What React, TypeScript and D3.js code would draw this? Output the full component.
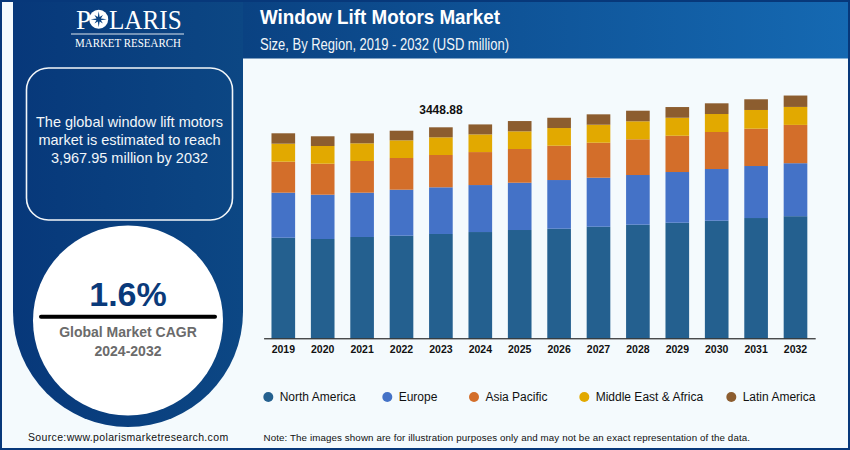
import { useRef, useEffect } from "react";
import * as d3 from "d3";

const years = ["2019", "2020", "2021", "2022", "2023", "2024", "2025", "2026", "2027", "2028", "2029", "2030", "2031", "2032"];
const regions = ["North America", "Europe", "Asia Pacific", "Middle East & Africa", "Latin America"];
const colors = ["#24608f", "#4472c7", "#d36e2a", "#e2a900", "#8c5d2f"];

const northAmerica = [1644, 1623, 1656, 1677, 1705, 1737, 1770, 1791, 1824, 1857, 1889, 1922, 1966, 1996];
const europe = [736, 724, 724, 752, 763, 768, 773, 796, 801, 812, 829, 845, 850, 866];
const asiaPacific = [507, 507, 518, 518, 528, 539, 551, 561, 572, 584, 593, 605, 610, 626];
const middleEastAfrica = [294, 289, 289, 289, 289, 289, 289, 289, 294, 294, 294, 294, 306, 294];
const latinAmerica = [170, 159, 163, 157, 163.88, 163, 168, 168, 170, 173, 175, 175, 175, 186];
const series = [northAmerica, europe, asiaPacific, middleEastAfrica, latinAmerica];

const labelYear = "2023";
const labelValue = "3448.88";
const legendX = [268.3, 387.3, 474, 584.3, 731.3];

const SANS = "'Liberation Sans', Arial, sans-serif";
const SERIF = "'Liberation Serif', 'Times New Roman', serif";

export default function App() {
  const svgRef = useRef<SVGSVGElement>(null);

  useEffect(() => {
    if (!svgRef.current) return;
    const svg = d3.select(svgRef.current);
    svg.selectAll("*").remove();
    svg.attr("width", 850).attr("height", 450).style("position", "fixed").style("left", 0).style("top", 0);

    const defs = svg.append("defs");
    const headGrad = defs.append("linearGradient").attr("id", "headGrad");
    headGrad.append("stop").attr("offset", "0%").attr("stop-color", "#0a4282");
    headGrad.append("stop").attr("offset", "100%").attr("stop-color", "#1569b2");
    const panelGrad = defs.append("linearGradient").attr("id", "panelGrad");
    panelGrad.append("stop").attr("offset", "0%").attr("stop-color", "#07387a");
    panelGrad.append("stop").attr("offset", "100%").attr("stop-color", "#0c4784");

    // frame, header, sidebar
    svg.append("rect").attr("width", 850).attr("height", 450).attr("fill", "#07387a");
    svg.append("rect").attr("x", 2).attr("y", 2).attr("width", 846).attr("height", 446).attr("fill", "#f4fafd");
    svg.append("rect").attr("x", 243).attr("y", 2).attr("width", 605).attr("height", 56.5).attr("fill", "url(#headGrad)");
    svg.append("path").attr("d", "M13,2H243V312A115,115 0 0 1 13,312Z").attr("fill", "url(#panelGrad)");

    // logo
    svg.append("text").attr("x", 76).attr("y", 28.7).attr("font-family", SERIF).attr("font-size", 27).attr("fill", "#fff").text("P");
    svg.append("text").attr("x", 109).attr("y", 28.7).attr("font-family", SERIF).attr("font-size", 27).attr("fill", "#fff")
      .attr("textLength", 72.7).attr("lengthAdjust", "spacingAndGlyphs").text("LARIS");
    svg.append("circle").attr("cx", 98.7).attr("cy", 19.3).attr("r", 9.5).attr("fill", "#fff");
    const starPts = d3.range(16).map(i => [(i * Math.PI) / 8, i % 2 === 0 ? (i % 4 === 0 ? 8 : 6) : 2.4] as [number, number]);
    svg.append("path").attr("transform", "translate(98.7,19.3)")
      .attr("d", d3.lineRadial().curve(d3.curveLinearClosed)(starPts)!).attr("fill", "#0a4282");
    svg.append("line").attr("x1", 71).attr("x2", 184).attr("y1", 34).attr("y2", 34).attr("stroke", "#dfe8f0").attr("stroke-width", 1);
    svg.append("text").attr("x", 75).attr("y", 47).attr("font-family", SERIF).attr("font-size", 11.5).attr("fill", "#fff")
      .attr("textLength", 106).attr("lengthAdjust", "spacingAndGlyphs").text("MARKET RESEARCH");

    // summary box
    svg.append("rect").attr("x", 26.5).attr("y", 68).attr("width", 206).attr("height", 152).attr("rx", 22)
      .attr("fill", "none").attr("stroke", "#f2f6f9").attr("stroke-width", 1.6);
    ["The global window lift motors", "market is estimated to reach", "3,967.95 million by 2032"].forEach((t, i) => {
      svg.append("text").attr("x", 129.5).attr("y", 127 + i * 18).attr("text-anchor", "middle").attr("font-family", SANS)
        .attr("font-size", 14.5).attr("fill", "#f2f6f9").text(t);
    });

    // CAGR circle
    svg.append("circle").attr("cx", 128).attr("cy", 320.5).attr("r", 95).attr("fill", "#fff");
    svg.append("text").attr("x", 128).attr("y", 305.5).attr("text-anchor", "middle").attr("font-family", SANS)
      .attr("font-size", 34).attr("font-weight", 700).attr("fill", "#0a3a7a").text("1.6%");
    svg.append("line").attr("x1", 41).attr("x2", 215).attr("y1", 316.7).attr("y2", 316.7).attr("stroke", "#000")
      .attr("stroke-width", 4).attr("stroke-linecap", "round");
    svg.append("text").attr("x", 128).attr("y", 337).attr("text-anchor", "middle").attr("font-family", SANS)
      .attr("font-size", 14).attr("font-weight", 700).attr("fill", "#6b6b6b").text("Global Market CAGR");
    svg.append("text").attr("x", 128).attr("y", 356).attr("text-anchor", "middle").attr("font-family", SANS)
      .attr("font-size", 14).attr("font-weight", 700).attr("fill", "#6b6b6b").text("2024-2032");

    // titles
    svg.append("text").attr("x", 260).attr("y", 23.5).attr("font-family", SANS).attr("font-size", 20)
      .attr("font-weight", 700).attr("fill", "#fff").attr("textLength", 240).attr("lengthAdjust", "spacingAndGlyphs")
      .text("Window Lift Motors Market");
    svg.append("text").attr("x", 260).attr("y", 50).attr("font-family", SANS).attr("font-size", 17)
      .attr("fill", "#f2f6f9").attr("textLength", 249).attr("lengthAdjust", "spacingAndGlyphs")
      .text("Size, By Region, 2019 - 2032 (USD million)");

    // chart
    const baseline = 338.3;
    const x = d3.scaleBand().domain(years).range([263.6, 815.2]).paddingInner(0.4).paddingOuter(0.2);
    const y = d3.scaleLinear().domain([0, 3448.88]).range([baseline, 127.3]);

    const rows = years.map((yr, i) => {
      const row: Record<string, number | string> = { year: yr };
      regions.forEach((r, s) => { row[r] = series[s][i]; });
      return row;
    });
    const stacked = d3.stack<Record<string, number | string>>().keys(regions)(rows as any);

    svg.append("g").selectAll("g").data(stacked).enter().append("g")
      .attr("fill", (_, i) => colors[i])
      .selectAll("rect").data(d => d).enter().append("rect")
      .attr("x", d => x(d.data.year as string)!)
      .attr("y", d => y(d[1]))
      .attr("width", x.bandwidth())
      .attr("height", d => y(d[0]) - y(d[1]));

    svg.append("g").attr("transform", `translate(0,${baseline})`)
      .call(d3.axisBottom(x).tickSize(0).tickPadding(7))
      .call(g => {
        g.select(".domain").attr("stroke", "#000").attr("stroke-width", 1);
        g.selectAll("text").attr("fill", "#111").attr("font-family", SANS).attr("font-size", 10.5).attr("font-weight", 700);
      });

    svg.append("text").attr("x", x(labelYear)! + x.bandwidth() / 2).attr("y", 114).attr("text-anchor", "middle")
      .attr("font-family", SANS).attr("font-size", 12).attr("font-weight", 700).attr("fill", "#111").text(labelValue);

    // legend
    regions.forEach((r, i) => {
      svg.append("circle").attr("cx", legendX[i]).attr("cy", 397).attr("r", 5).attr("fill", colors[i]);
      svg.append("text").attr("x", legendX[i] + 11.4).attr("y", 401).attr("font-family", SANS).attr("font-size", 12)
        .attr("fill", "#111").text(r);
    });

    // footer
    svg.append("text").attr("x", 28).attr("y", 441).attr("font-family", SANS).attr("font-size", 10.5)
      .attr("letter-spacing", 0.35).attr("fill", "#111").text("Source:www.polarismarketresearch.com");
    svg.append("text").attr("x", 263.5).attr("y", 441).attr("font-family", SANS).attr("font-size", 9.75)
      .attr("letter-spacing", 0.11).attr("fill", "#111")
      .text("Note: The images shown are for illustration purposes only and may not be an exact representation of the data.");
  }, []);

  return <svg ref={svgRef} />;
}
